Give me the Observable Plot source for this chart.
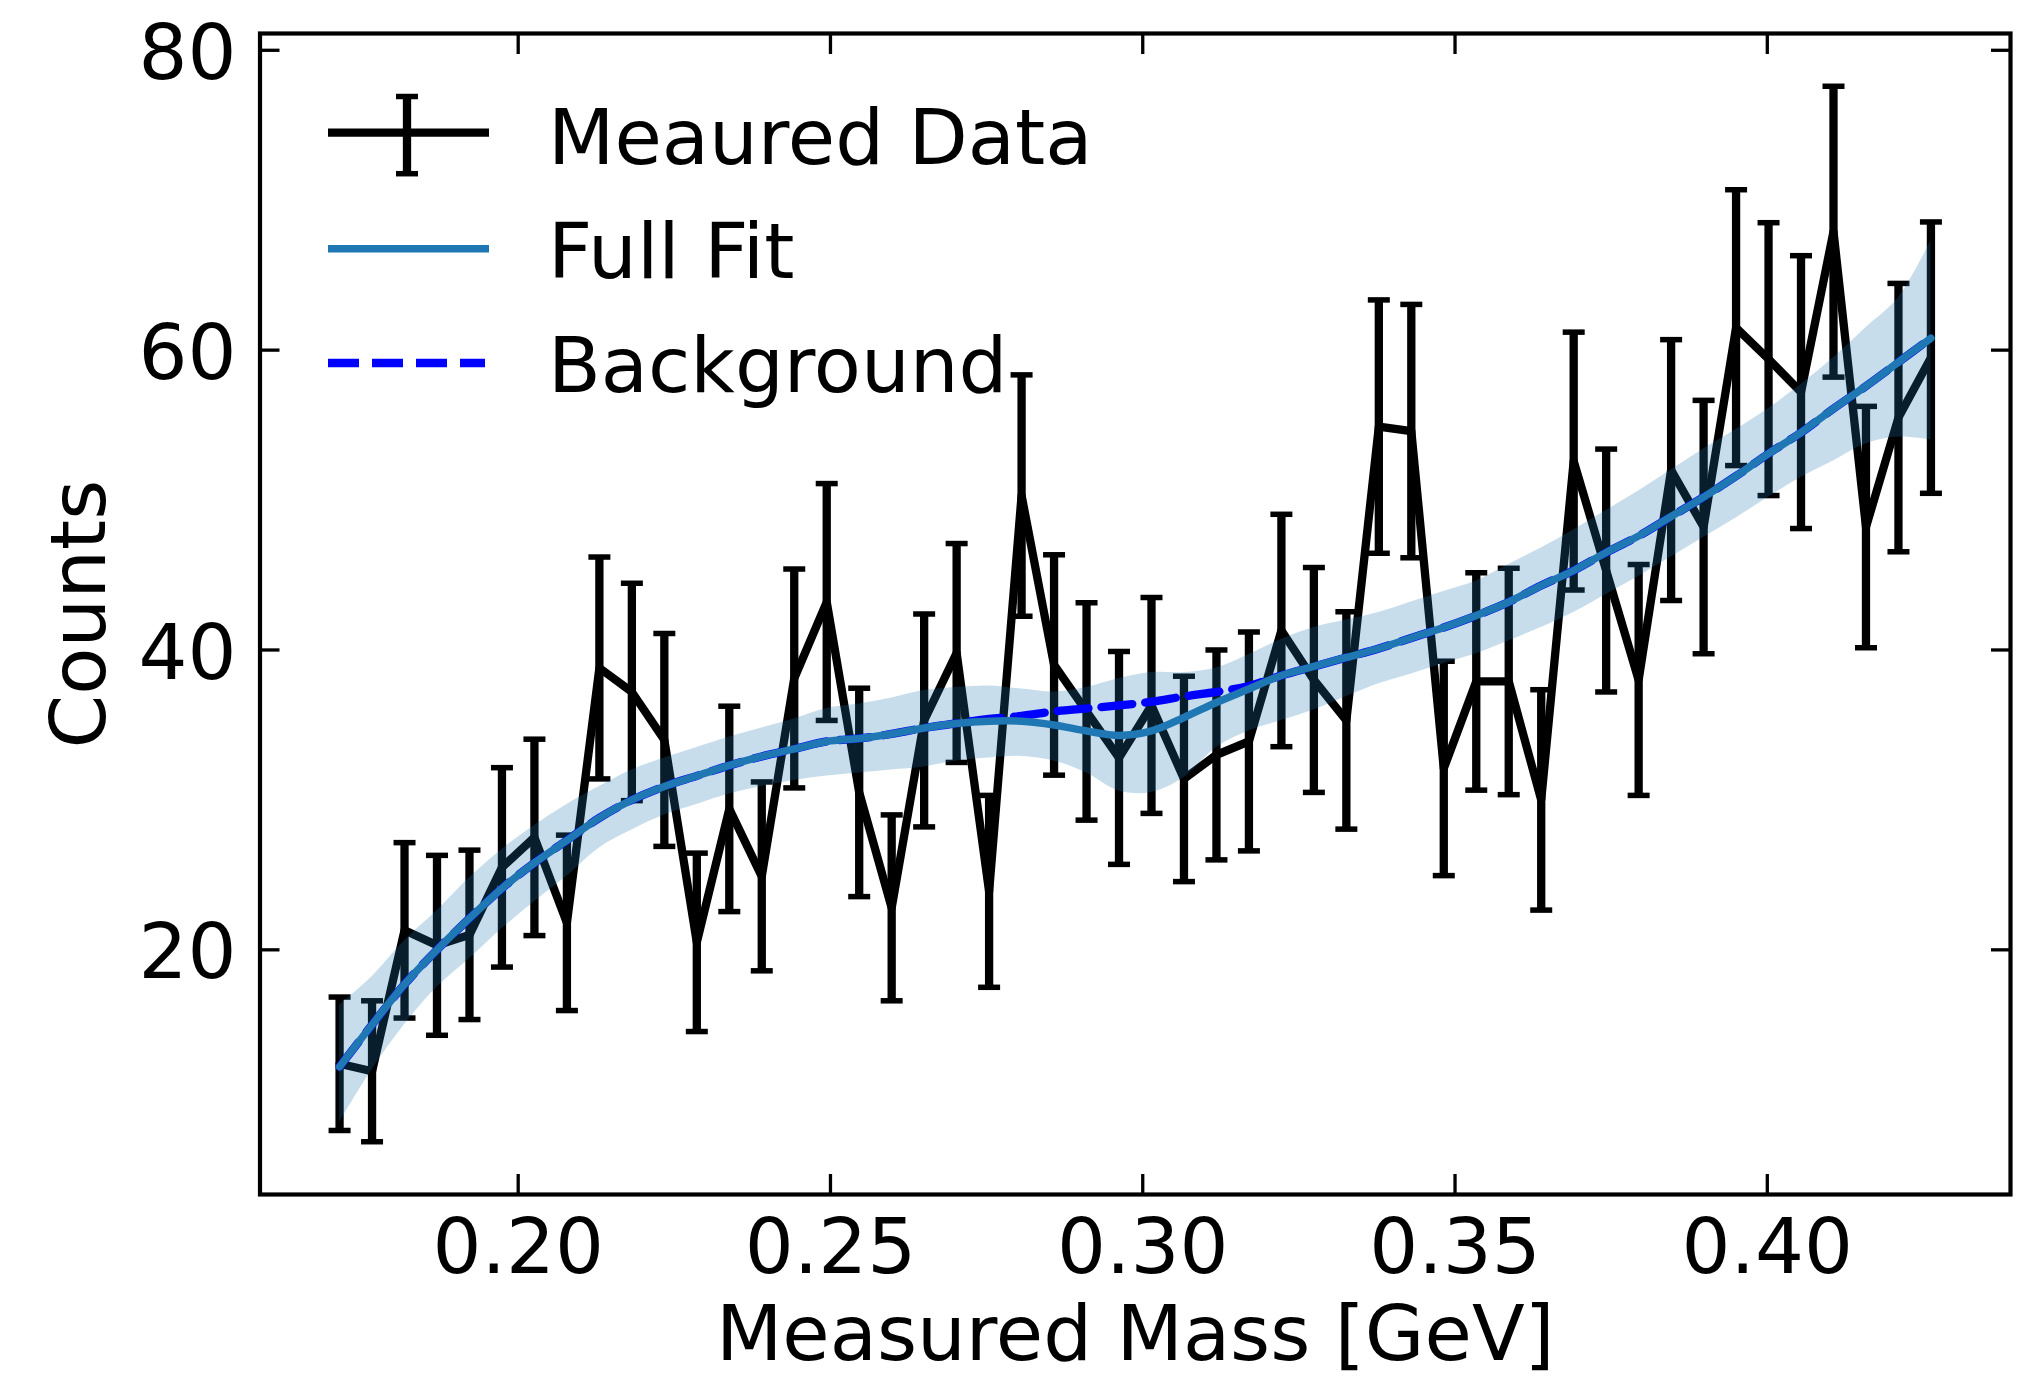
<!DOCTYPE html>
<html><head><meta charset="utf-8">
<script src="https://cdn.jsdelivr.net/npm/d3@7"></script>
<script src="https://cdn.jsdelivr.net/npm/@observablehq/plot@0.6"></script>
<style>html,body{margin:0;padding:0;background:#fff;overflow:hidden}</style>
</head><body><div id="chart"></div>
<script>
// ---- data ----
const massBins = [
  0.1714, 0.1766, 0.1818, 0.1870, 0.1922, 0.1974, 0.2026, 0.2078, 0.2130, 0.2182,
  0.2234, 0.2286, 0.2338, 0.2390, 0.2442, 0.2494, 0.2546, 0.2598, 0.2650, 0.2702,
  0.2754, 0.2806, 0.2858, 0.2910, 0.2962, 0.3014, 0.3066, 0.3118, 0.3170, 0.3222,
  0.3274, 0.3326, 0.3378, 0.3430, 0.3482, 0.3534, 0.3586, 0.3638, 0.3690, 0.3742,
  0.3794, 0.3846, 0.3898, 0.3950, 0.4002, 0.4054, 0.4106, 0.4158, 0.4210, 0.4262
];
const measuredCounts = [
  12.4, 11.9, 21.3, 20.3, 21.0, 25.5, 27.5, 21.8, 38.8, 37.2,
  34.0, 20.5, 29.4, 24.9, 38.1, 43.2, 30.5, 22.8, 35.3, 39.8,
  23.9, 50.3, 39.0, 35.9, 32.8, 36.3, 31.4, 33.0, 33.9, 41.3,
  38.0, 35.3, 54.9, 54.6, 32.1, 37.9, 37.9, 30.0, 52.6, 45.3,
  38.0, 52.0, 48.2, 61.5, 59.4, 57.2, 67.9, 48.2, 55.5, 59.5
];
const countErrors = [
  4.45, 4.7, 5.85, 6.0, 5.65, 6.65, 6.55, 5.85, 7.4, 7.25,
  7.1, 5.95, 6.85, 6.3, 7.3, 7.9, 6.95, 6.2, 7.1, 7.3,
  6.4, 8.05, 7.35, 7.25, 7.1, 7.2, 6.85, 7.0, 7.3, 7.75,
  7.5, 7.25, 8.45, 8.45, 7.15, 7.25, 7.55, 7.35, 8.6, 8.1,
  7.7, 8.7, 8.45, 9.2, 9.1, 9.1, 9.7, 8.05, 8.95, 9.05
];
const fullFit = [
  12.2, 15.0, 17.7, 20.0, 22.1, 24.1, 25.8, 27.3, 28.8, 30.0,
  30.9, 31.6, 32.3, 32.9, 33.4, 33.9, 34.1, 34.4, 34.8, 35.1,
  35.25, 35.25, 35.0, 34.6, 34.3, 34.6, 35.5, 36.5, 37.4, 38.3,
  38.9, 39.5, 40.1, 40.8, 41.5, 42.3, 43.2, 44.3, 45.3, 46.5,
  47.6, 48.9, 50.2, 51.6, 53.1, 54.5, 56.1, 57.6, 59.2, 60.8
];
const backgroundFit = [
  12.2, 15.0, 17.7, 20.0, 22.1, 24.1, 25.8, 27.3, 28.8, 30.0,
  30.9, 31.6, 32.3, 32.9, 33.4, 33.9, 34.1, 34.4, 34.8, 35.1,
  35.4, 35.6, 35.9, 36.1, 36.3, 36.55, 36.9, 37.2, 37.6, 38.3,
  38.9, 39.5, 40.1, 40.8, 41.5, 42.3, 43.2, 44.3, 45.3, 46.5,
  47.6, 48.9, 50.2, 51.6, 53.1, 54.5, 56.1, 57.6, 59.2, 60.8
];
const bandLow = [
  8.5, 12.0, 15.0, 17.5, 19.4, 21.4, 23.2, 24.9, 26.8, 28.0,
  29.0, 29.7, 30.4, 30.9, 31.3, 31.6, 31.8, 32.0, 32.2, 32.6,
  32.8, 32.9, 32.6, 31.8, 30.6, 30.5, 31.5, 33.5, 34.6, 35.3,
  36.0, 36.9, 37.75, 38.4, 39.1, 39.75, 40.6, 41.5, 42.5, 43.7,
  44.9, 46.2, 47.5, 48.8, 50.2, 51.5, 52.6, 53.75, 54.2, 54.0
];
const bandHigh = [
  16.3, 18.2, 20.6, 22.6, 24.8, 26.7, 28.3, 29.7, 30.9, 32.0,
  32.8, 33.5, 34.2, 34.8, 35.4, 36.1, 36.4, 36.8, 37.3, 37.5,
  37.6, 37.4, 37.2, 37.5, 38.1, 38.5, 38.5, 38.8, 39.7, 40.7,
  41.5, 42.0, 42.5, 43.2, 43.9, 44.6, 45.7, 46.8, 48.0, 49.3,
  50.6, 52.0, 53.4, 54.7, 56.1, 57.7, 59.5, 61.5, 63.5, 67.3
];
const xTicks = [0.20, 0.25, 0.30, 0.35, 0.40];
const yTicks = [20, 40, 60, 80];
const xDomain = [0.15866, 0.43894];
const yDomain = [3.68, 81.12];
const legendLabels = ["Meaured Data", "Full Fit", "Background"];
const xLabel = "Measured Mass [GeV]";
const yLabel = "Counts";

// ---- table ----
const rows = massBins.map((m, i) => ({
  mass: m, counts: measuredCounts[i], err: countErrors[i],
  fit: fullFit[i], bg: backgroundFit[i], lo: bandLow[i], hi: bandHigh[i]
}));

const FONT = "DejaVu Sans";
const FS = 77;
const capSymbol = {draw(ctx) { ctx.moveTo(-11, 0); ctx.lineTo(11, 0); }};

const chart = Plot.plot({
  width: 2018, height: 1378,
  marginLeft: 259.5, marginRight: 8, marginTop: 33, marginBottom: 184,
  x: {domain: xDomain},
  y: {domain: yDomain},
  style: {fontFamily: FONT, background: "white", color: "black", overflow: "visible"},
  marks: [
    // measured data with error bars
    Plot.ruleX(rows, {x: "mass", y1: d => d.counts - d.err, y2: d => d.counts + d.err, stroke: "black", strokeWidth: 8.3}),
    Plot.dot(rows, {x: "mass", y: d => d.counts + d.err, symbol: capSymbol, r: 1, fill: "none", stroke: "black", strokeWidth: 5.5}),
    Plot.dot(rows, {x: "mass", y: d => d.counts - d.err, symbol: capSymbol, r: 1, fill: "none", stroke: "black", strokeWidth: 5.5}),
    Plot.line(rows, {x: "mass", y: "counts", stroke: "black", strokeWidth: 8.3, strokeLinejoin: "round"}),
    // uncertainty band
    Plot.areaY(rows, {x: "mass", y1: "lo", y2: "hi", fill: "#1f77b4", fillOpacity: 0.25, curve: "catmull-rom"}),
    // background (dashed) and full fit
    Plot.line(rows, {x: "mass", y: "bg", stroke: "#0000ff", strokeWidth: 8.3, strokeDasharray: "31,13", curve: "catmull-rom"}),
    Plot.line(rows, {x: "mass", y: "fit", stroke: "#1f77b4", strokeWidth: 7.5, curve: "catmull-rom"}),
    // frame
    Plot.frame({stroke: "black", strokeWidth: 4.2}),
    // inward ticks on all four sides
    Plot.axisY({ticks: yTicks, anchor: "left", tickSize: 20, dx: 20, fill: "none", strokeWidth: 3.3}),
    Plot.axisY({ticks: yTicks, anchor: "right", tickSize: 20, dx: -20, fill: "none", strokeWidth: 3.3}),
    Plot.axisX({ticks: xTicks, anchor: "bottom", tickSize: 20, dy: -20, fill: "none", strokeWidth: 3.3}),
    Plot.axisX({ticks: xTicks, anchor: "top", tickSize: 20, dy: 20, fill: "none", strokeWidth: 3.3}),
    // tick labels
    Plot.axisY({ticks: yTicks, anchor: "left", tickSize: 0, tickPadding: 23.5, dy: 4, fontSize: FS, tickFormat: d => String(d), label: null}),
    Plot.axisX({ticks: xTicks, anchor: "bottom", tickSize: 0, tickPadding: 24, fontSize: FS, tickFormat: d => d.toFixed(2), label: null}),
    // axis titles
    Plot.text([xLabel], {frameAnchor: "bottom", lineAnchor: "bottom", textAnchor: "middle", dy: 165, fontSize: FS, fill: "black"}),
    Plot.text([yLabel], {frameAnchor: "left", lineAnchor: "bottom", textAnchor: "middle", rotate: -90, dx: -155.5, fontSize: FS, fill: "black"})
  ]
});

document.getElementById("chart").appendChild(chart);

// ---- legend (inside plot area, upper left, no frame) ----
const svg = d3.select(chart);
const lg = svg.append("g").attr("class", "legend").attr("text-anchor", "start");
const hx0 = 328, hx1 = 489, tx = 548;
const rowsY = [132.6, 248.7, 363];
const baseY = [164, 277.5, 391.5];
// errorbar handle
lg.append("line").attr("x1", hx0).attr("x2", hx1).attr("y1", rowsY[0]).attr("y2", rowsY[0])
  .attr("stroke", "black").attr("stroke-width", 8.3);
lg.append("line").attr("x1", 407).attr("x2", 407).attr("y1", 96.5).attr("y2", 173.7)
  .attr("stroke", "black").attr("stroke-width", 8.3);
[96.5, 173.7].forEach(y => lg.append("line").attr("x1", 396).attr("x2", 418).attr("y1", y).attr("y2", y)
  .attr("stroke", "black").attr("stroke-width", 5.5));
// full fit handle
lg.append("line").attr("x1", hx0).attr("x2", hx1).attr("y1", rowsY[1]).attr("y2", rowsY[1])
  .attr("stroke", "#1f77b4").attr("stroke-width", 7.5);
// background handle
lg.append("line").attr("x1", hx0).attr("x2", hx1 - 4).attr("y1", rowsY[2]).attr("y2", rowsY[2])
  .attr("stroke", "#0000ff").attr("stroke-width", 8.3).attr("stroke-dasharray", "31,13");
legendLabels.forEach((t, i) => lg.append("text").attr("x", tx).attr("y", baseY[i])
  .attr("text-anchor", "start")
  .attr("font-family", FONT).attr("font-size", FS).attr("fill", "black").text(t));
</script>
</body></html>
